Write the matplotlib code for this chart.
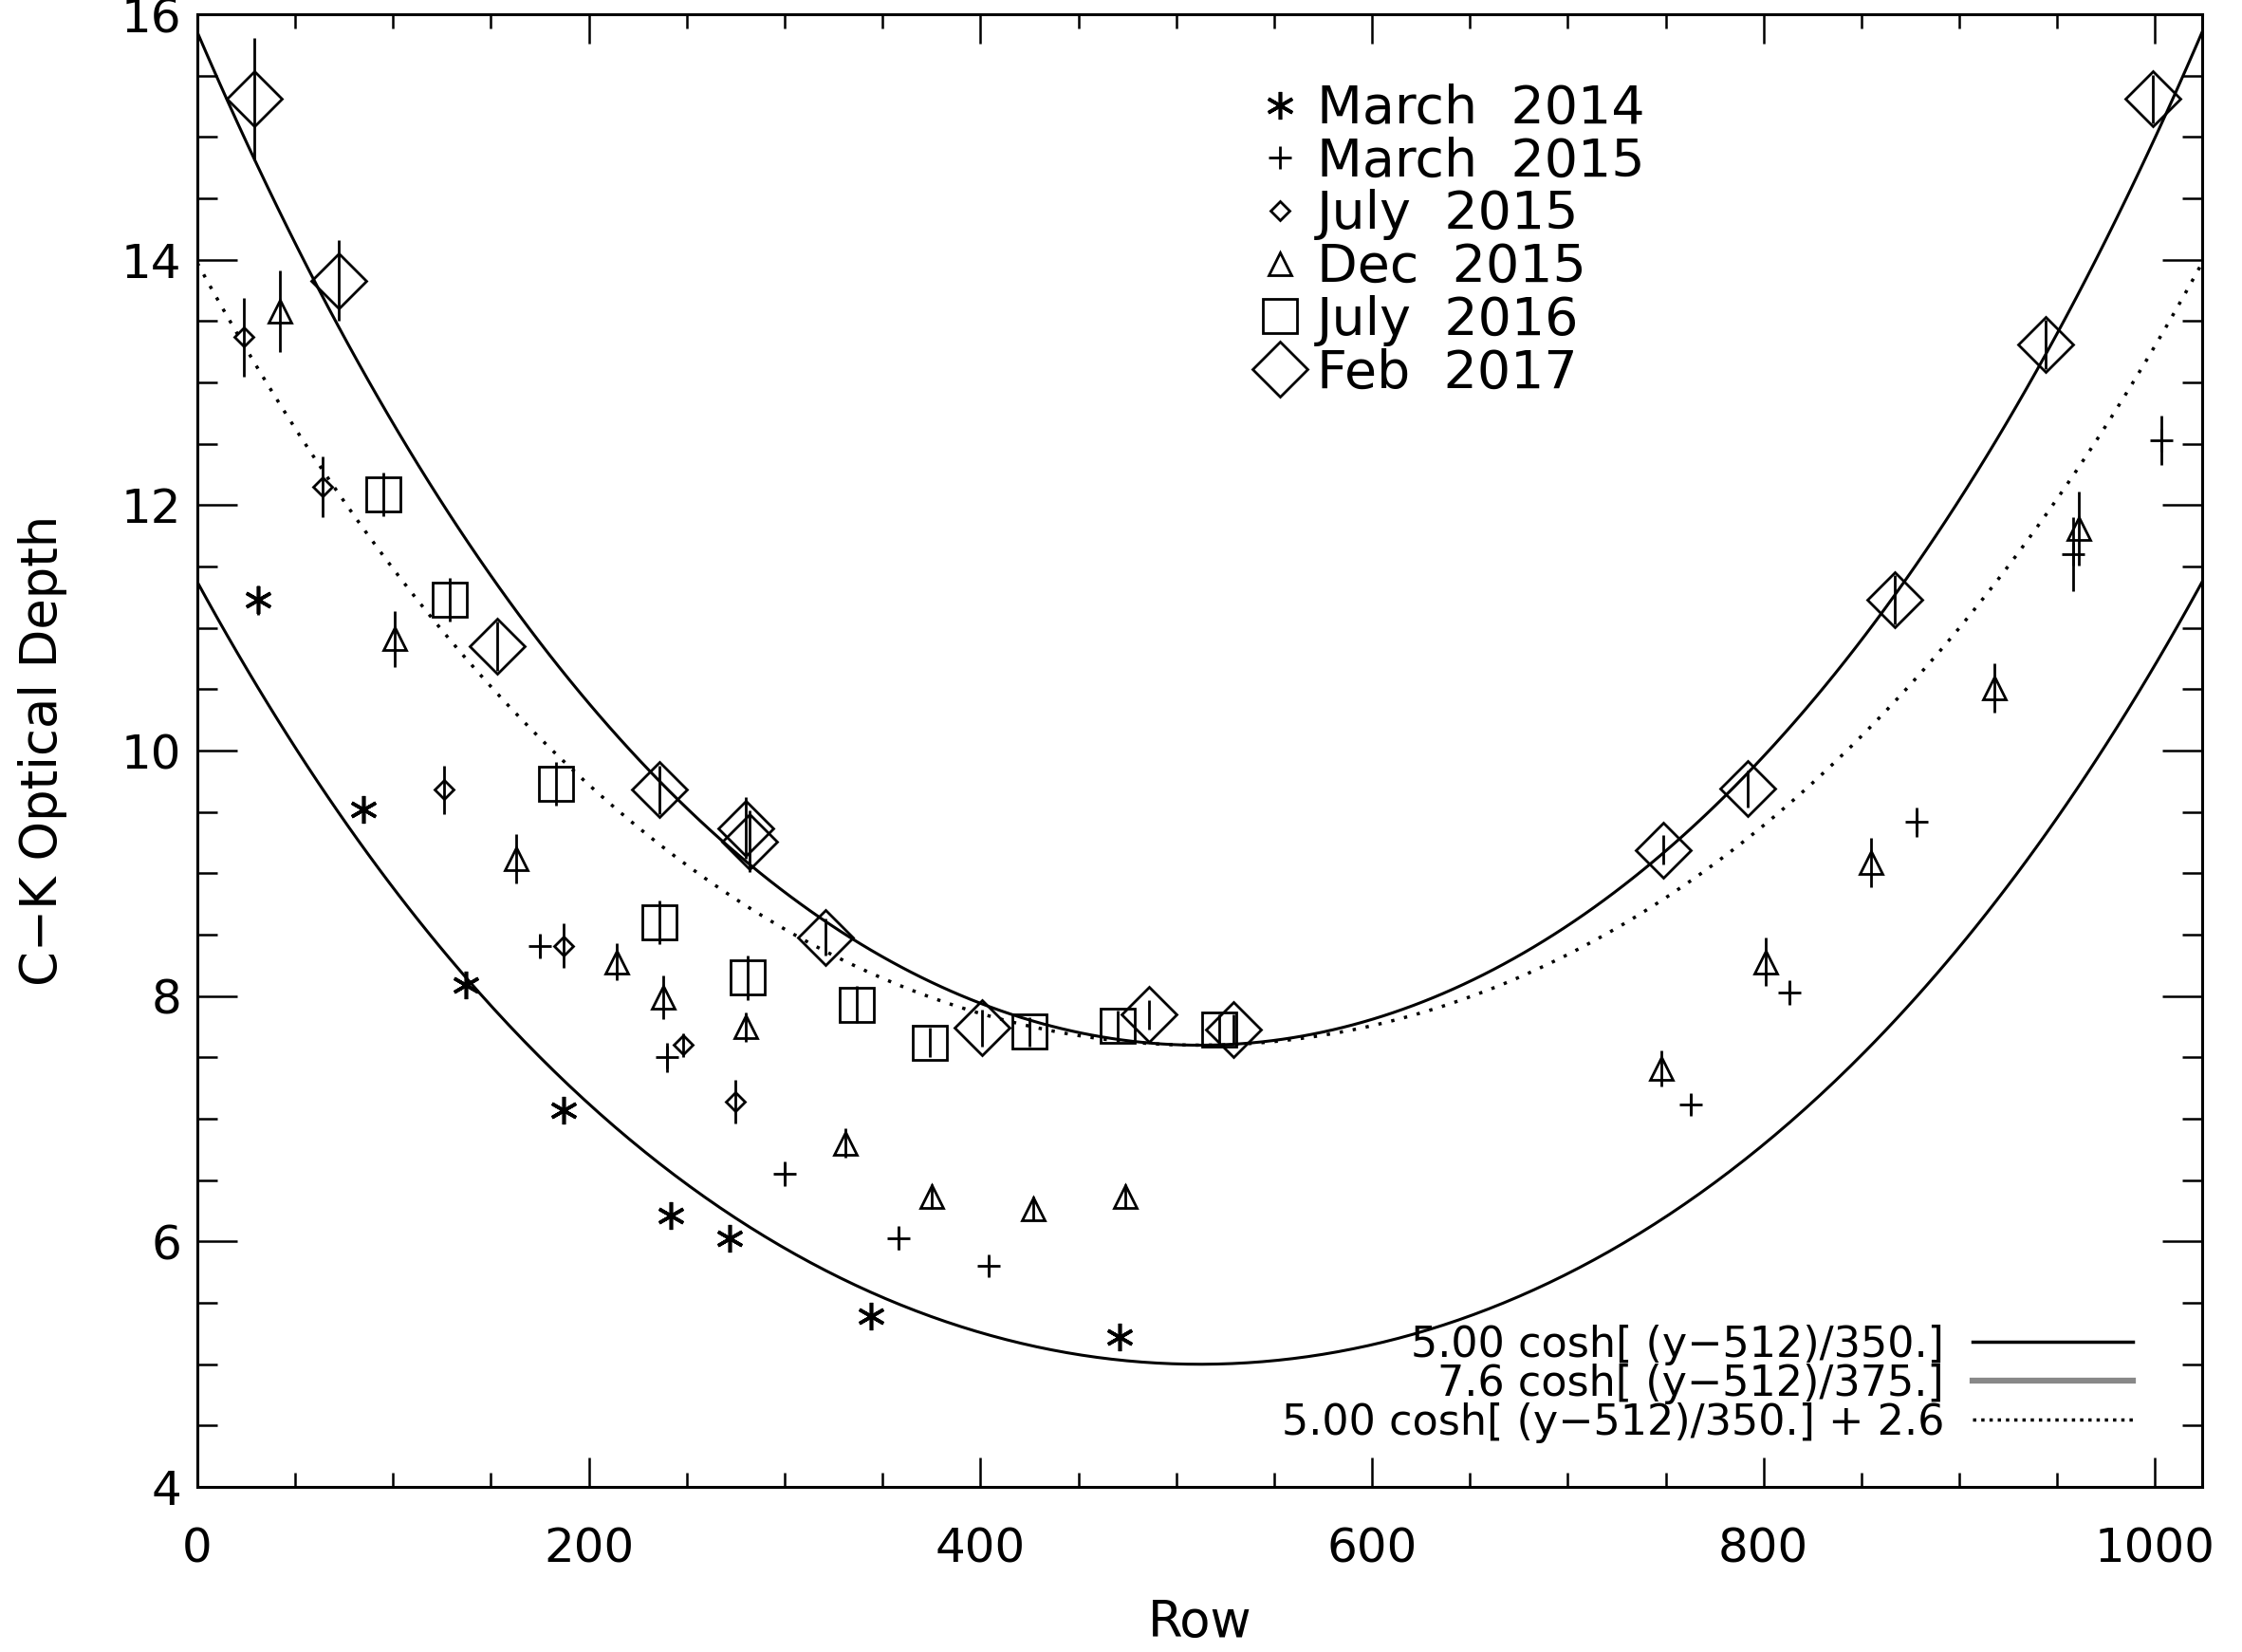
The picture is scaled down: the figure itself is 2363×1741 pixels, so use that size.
import numpy as np
import matplotlib.pyplot as plt
from matplotlib.lines import Line2D
from matplotlib.ticker import MultipleLocator

plt.switch_backend('Agg')
plt.rcParams['font.family'] = ['DejaVu Sans']

# March 2014 (asterisks)
mar14_x = [31, 85, 137, 187, 242, 272, 344, 471]
mar14_y = [11.23, 9.52, 8.09, 7.07, 6.21, 6.03, 5.39, 5.22]
mar14_e = [0.12, 0.1, 0.1, 0.1, 0.1, 0.1, 0.1, 0.1]

# March 2015 (plus)
mar15_x = [175, 240, 300, 358, 404, 763, 813, 878, 958, 1003]
mar15_y = [8.41, 7.5, 6.55, 6.03, 5.8, 7.12, 8.03, 9.42, 11.6, 12.53]
mar15_e = [0.1, 0.12, 0.1, 0.1, 0.08, 0.08, 0.1, 0.12, 0.3, 0.2]

# July 2015 (small diamonds)
jul15_x = [24, 64, 126, 187, 248, 275]
jul15_y = [13.37, 12.15, 9.68, 8.41, 7.6, 7.14]
jul15_e = [0.32, 0.25, 0.2, 0.18, 0.1, 0.18]

# Dec 2015 (triangles)
dec15_x = [42, 101, 163, 214, 238, 280, 331, 375, 427, 474, 748, 801, 855, 918, 961]
dec15_y = [13.58, 10.91, 9.12, 8.28, 7.99, 7.75, 6.8, 6.37, 6.27, 6.37, 7.41, 8.28, 9.09, 10.51, 11.81]
dec15_e = [0.33, 0.23, 0.2, 0.15, 0.18, 0.12, 0.12, 0.1, 0.1, 0.1, 0.15, 0.2, 0.2, 0.2, 0.3]

# July 2016 (squares)
jul16_x = [95, 129, 183, 236, 281, 337, 374, 425, 470, 522]
jul16_y = [12.09, 11.23, 9.73, 8.6, 8.15, 7.93, 7.62, 7.71, 7.76, 7.73]
jul16_e = [0.18, 0.18, 0.18, 0.18, 0.18, 0.15, 0.12, 0.12, 0.12, 0.12]

# Feb 2017 (big diamonds)
feb17_x = [29, 72, 153, 236, 280, 282, 321, 401, 486, 529, 749, 792, 867, 944, 999]
feb17_y = [15.31, 13.83, 10.85, 9.68, 9.37, 9.26, 8.48, 7.74, 7.85, 7.73, 9.19, 9.69, 11.23, 13.31, 15.31]
feb17_e = [0.5, 0.33, 0.2, 0.2, 0.25, 0.25, 0.15, 0.15, 0.12, 0.12, 0.12, 0.15, 0.2, 0.2, 0.2]

# model curves: amplitude, scale, offset
fit_lo = (5.00, 350.0, 0.0)
fit_hi = (7.6, 375.0, 0.0)
fit_dot = (5.00, 350.0, 2.6)
center = 512

series = [
    (mar14_x, mar14_y, mar14_e, (6, 2, 0), 21, 2.6, 'March  2014'),
    (mar15_x, mar15_y, mar15_e, '+', 17, 2, 'March  2015'),
    (jul15_x, jul15_y, jul15_e, 'D', 10, 2, 'July  2015'),
    (dec15_x, dec15_y, dec15_e, '^', 17, 2, 'Dec  2015'),
    (jul16_x, jul16_y, jul16_e, 's', 26, 2, 'July  2016'),
    (feb17_x, feb17_y, feb17_e, 'D', 30, 2, 'Feb  2017'),
]

fig = plt.figure(figsize=(23.63, 17.41), dpi=100)
ax = fig.add_axes([0.088, 0.0999, 0.8942, 0.8914])

rows = np.linspace(0, 1024, 400)
for amp, scl, off in [fit_lo, fit_hi]:
    ax.plot(rows, amp * np.cosh((rows - center) / scl) + off, color='k', lw=2.2)
amp, scl, off = fit_dot
ax.plot(rows, amp * np.cosh((rows - center) / scl) + off, color='k', lw=2.5,
        ls=(0, (1, 3)))

handles = []
for x, y, e, m, ms, mew, lab in series:
    ax.errorbar(x, y, yerr=e, fmt='none', ecolor='k', elinewidth=2, capsize=0)
    h, = ax.plot(x, y, ls='none', marker=m, ms=ms, mfc='none', mec='k', mew=mew,
                 label=lab)
    handles.append(h)

leg1 = ax.legend(handles=handles, loc='upper left', bbox_to_anchor=(0.527, 0.953),
                 frameon=False, fontsize=40, handlelength=1.0, handletextpad=0.2,
                 labelspacing=0.03, borderpad=0, borderaxespad=0)
ax.add_artist(leg1)

fit_handles = [
    Line2D([], [], color='k', lw=2.5),
    Line2D([], [], color='#888888', lw=4.5),
    Line2D([], [], color='k', lw=2.5, ls=(0, (1, 1.5))),
]
fit_labels = [
    '5.00 cosh[ (y\u2212512)/350.]',
    '7.6 cosh[ (y\u2212512)/375.]',
    '5.00 cosh[ (y\u2212512)/350.] + 2.6',
]
ax.legend(fit_handles, fit_labels, loc='lower right', bbox_to_anchor=(0.9655, 0.03),
          frameon=False, fontsize=32, markerfirst=False, handlelength=3.8,
          handletextpad=0.68, labelspacing=-0.05, borderpad=0, borderaxespad=0)

ax.set_xlim(0, 1024)
ax.set_ylim(4, 16)
ax.xaxis.set_major_locator(MultipleLocator(200))
ax.xaxis.set_minor_locator(MultipleLocator(50))
ax.yaxis.set_major_locator(MultipleLocator(2))
ax.yaxis.set_minor_locator(MultipleLocator(0.5))
ax.tick_params(which='both', direction='in', top=True, right=True, width=1.8,
               labelsize=36)
ax.tick_params(axis='x', which='major', length=22, pad=30)
ax.tick_params(axis='x', which='minor', length=11)
ax.tick_params(axis='y', which='major', length=30, pad=12)
ax.tick_params(axis='y', which='minor', length=15)
for s in ax.spines.values():
    s.set_linewidth(2.2)

ax.set_xlabel('Row', fontsize=38)
ax.set_ylabel('C\u2212K Optical Depth', fontsize=38)
ax.xaxis.set_label_coords(0.5, -0.075)
ax.yaxis.set_label_coords(-0.065, 0.5)

fig.savefig('out.png', dpi=100)
